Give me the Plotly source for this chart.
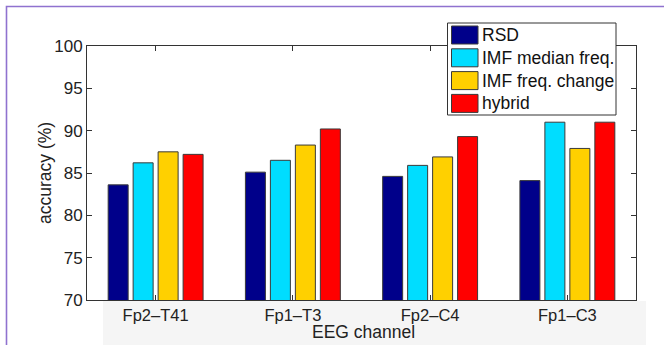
import plotly.graph_objects as go

categories = ["Fp2\u2013T41", "Fp1\u2013T3", "Fp2\u2013C4", "Fp1\u2013C3"]
series_names = ["RSD", "IMF median freq.", "IMF freq. change", "hybrid"]
rsd = [83.6, 85.1, 84.6, 84.1]
imf_median = [86.2, 86.5, 85.9, 91.0]
imf_change = [87.5, 88.3, 86.9, 87.9]
hybrid = [87.2, 90.2, 89.3, 91.0]
series_values = [rsd, imf_median, imf_change, hybrid]
colors = ["#00008a", "#00ddff", "#ffd000", "#ff0000"]
y_ticks = [70, 75, 80, 85, 90, 95, 100]

W, H = 664, 345
L, R, T, B = 87, 636, 46, 300
FONT = "Liberation Sans, Arial, sans-serif"


def px(x):
    return (x - L) / (R - L)


def py(y):
    return (B - y) / (B - T)


fig = go.Figure()
for name, vals, col in zip(series_names, series_values, colors):
    fig.add_trace(go.Bar(
        x=list(range(len(categories))), y=vals, name=name,
        marker=dict(color=col, line=dict(color="#3a3a3a", width=1)),
        showlegend=False,
    ))

shapes = []
# gray band behind the x labels
shapes.append(dict(type="rect", xref="paper", yref="paper",
                   x0=px(103), x1=px(646), y0=py(345), y1=py(301),
                   fillcolor="#f5f5f5", line=dict(width=0), layer="below"))
# purple frame
shapes.append(dict(type="path", xref="paper", yref="paper",
                   path=f"M{px(6.5)},{py(346)} L{px(6.5)},{py(6.5)} L{px(665)},{py(6.5)}",
                   line=dict(color="#8f72cf", width=1.6)))
# legend box
shapes.append(dict(type="rect", xref="paper", yref="paper",
                   x0=px(447.5), x1=px(616), y0=py(115), y1=py(23),
                   fillcolor="white", line=dict(color="#333333", width=1), layer="above"))
annotations = []
for i, (name, col) in enumerate(zip(series_names, colors)):
    cy = 35 + 22.8 * i
    shapes.append(dict(type="rect", xref="paper", yref="paper",
                       x0=px(451.5), x1=px(478), y0=py(cy + 9), y1=py(cy - 9),
                       fillcolor=col, line=dict(color="#3a3a3a", width=1), layer="above"))
    annotations.append(dict(xref="paper", yref="paper", x=px(479.5), y=py(cy),
                            xanchor="left", yanchor="middle", text=name, showarrow=False,
                            font=dict(family=FONT, size=17.5, color="#111111")))

annotations.append(dict(xref="paper", yref="paper", x=px(363), y=py(332),
                        xanchor="center", yanchor="middle", text="EEG channel", showarrow=False,
                        font=dict(family=FONT, size=17.5, color="#222222")))
annotations.append(dict(xref="paper", yref="paper", x=px(45), y=py(173),
                        xanchor="center", yanchor="middle", text="accuracy (%)", showarrow=False,
                        textangle=-90,
                        font=dict(family=FONT, size=17.5, color="#222222")))

fig.update_layout(
    width=W, height=H,
    margin=dict(l=L, r=W - R, t=T, b=H - B, pad=0),
    paper_bgcolor="white", plot_bgcolor="white",
    barmode="group", bargap=0.272, bargroupgap=0.2,
    shapes=shapes, annotations=annotations,
    font=dict(family=FONT, size=16, color="#222222"),
)
fig.update_xaxes(
    range=[-0.5, 3.5], tickmode="array", tickvals=list(range(len(categories))),
    ticktext=categories, ticks="inside", ticklen=5, tickcolor="#333333",
    showline=True, linecolor="#333333", linewidth=1, mirror="ticks",
    showgrid=False, zeroline=False, tickfont=dict(family=FONT, size=16.5, color="#222222"),
)
fig.update_yaxes(
    range=[70, 100], tickmode="array", tickvals=y_ticks,
    ticks="inside", ticklen=5, tickcolor="#333333",
    showline=True, linecolor="#333333", linewidth=1, mirror="ticks",
    showgrid=False, zeroline=False, tickfont=dict(family=FONT, size=17, color="#222222"),
)

fig.write_html("out.html")
